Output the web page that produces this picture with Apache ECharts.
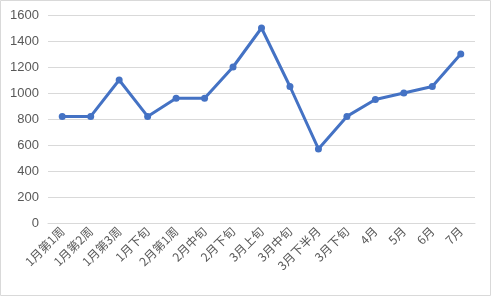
<!DOCTYPE html>
<html><head><meta charset="utf-8">
<script src="https://cdn.jsdelivr.net/npm/echarts@6/dist/echarts.min.js"></script>
<style>html,body{margin:0;padding:0;background:#fff}#c{width:491px;height:296px}</style>
</head><body><div id="c"></div>
<script>
const categories = ['1月第1周','1月第2周','1月第3周','1月下旬','2月第1周','2月中旬','2月下旬','3月上旬','3月中旬','3月下半月','3月下旬','4月','5月','6月','7月'];
const values = [820, 820, 1100, 820, 960, 960, 1200, 1500, 1050, 570, 820, 950, 1000, 1050, 1300];
const yTicks = {min: 0, max: 1600, interval: 200};

const chart = echarts.init(document.getElementById('c'), null, {renderer: 'canvas'});
chart.setOption({
  animation: false,
  textStyle: {fontFamily: '"Noto Sans CJK SC", "Liberation Sans", sans-serif'},
  graphic: [{type: 'rect', shape: {x: 0.5, y: 0.5, width: 490, height: 295}, style: {fill: 'none', stroke: '#d9d9d9', lineWidth: 1}, silent: true}],
  grid: {left: 48, right: 16, top: 15, bottom: 73},
  xAxis: {
    type: 'category', data: categories, boundaryGap: true,
    axisLine: {show: true, lineStyle: {color: '#d9d9d9'}},
    axisTick: {show: false},
    axisLabel: {rotate: 45, color: '#595959', fontSize: 12, margin: 6, interval: 0, fontFamily: '"Noto Sans CJK SC", sans-serif'}
  },
  yAxis: {
    type: 'value', min: yTicks.min, max: yTicks.max, interval: yTicks.interval,
    axisLine: {show: false}, axisTick: {show: false},
    splitLine: {lineStyle: {color: '#d9d9d9'}},
    axisLabel: {color: '#595959', fontSize: 13, margin: 9, formatter: v => String(v), fontFamily: '"Liberation Sans", sans-serif'}
  },
  series: [{
    type: 'line', data: values,
    lineStyle: {color: '#4472C4', width: 3},
    itemStyle: {color: '#4472C4'},
    symbol: 'circle', symbolSize: 7
  }]
});
</script></body></html>
